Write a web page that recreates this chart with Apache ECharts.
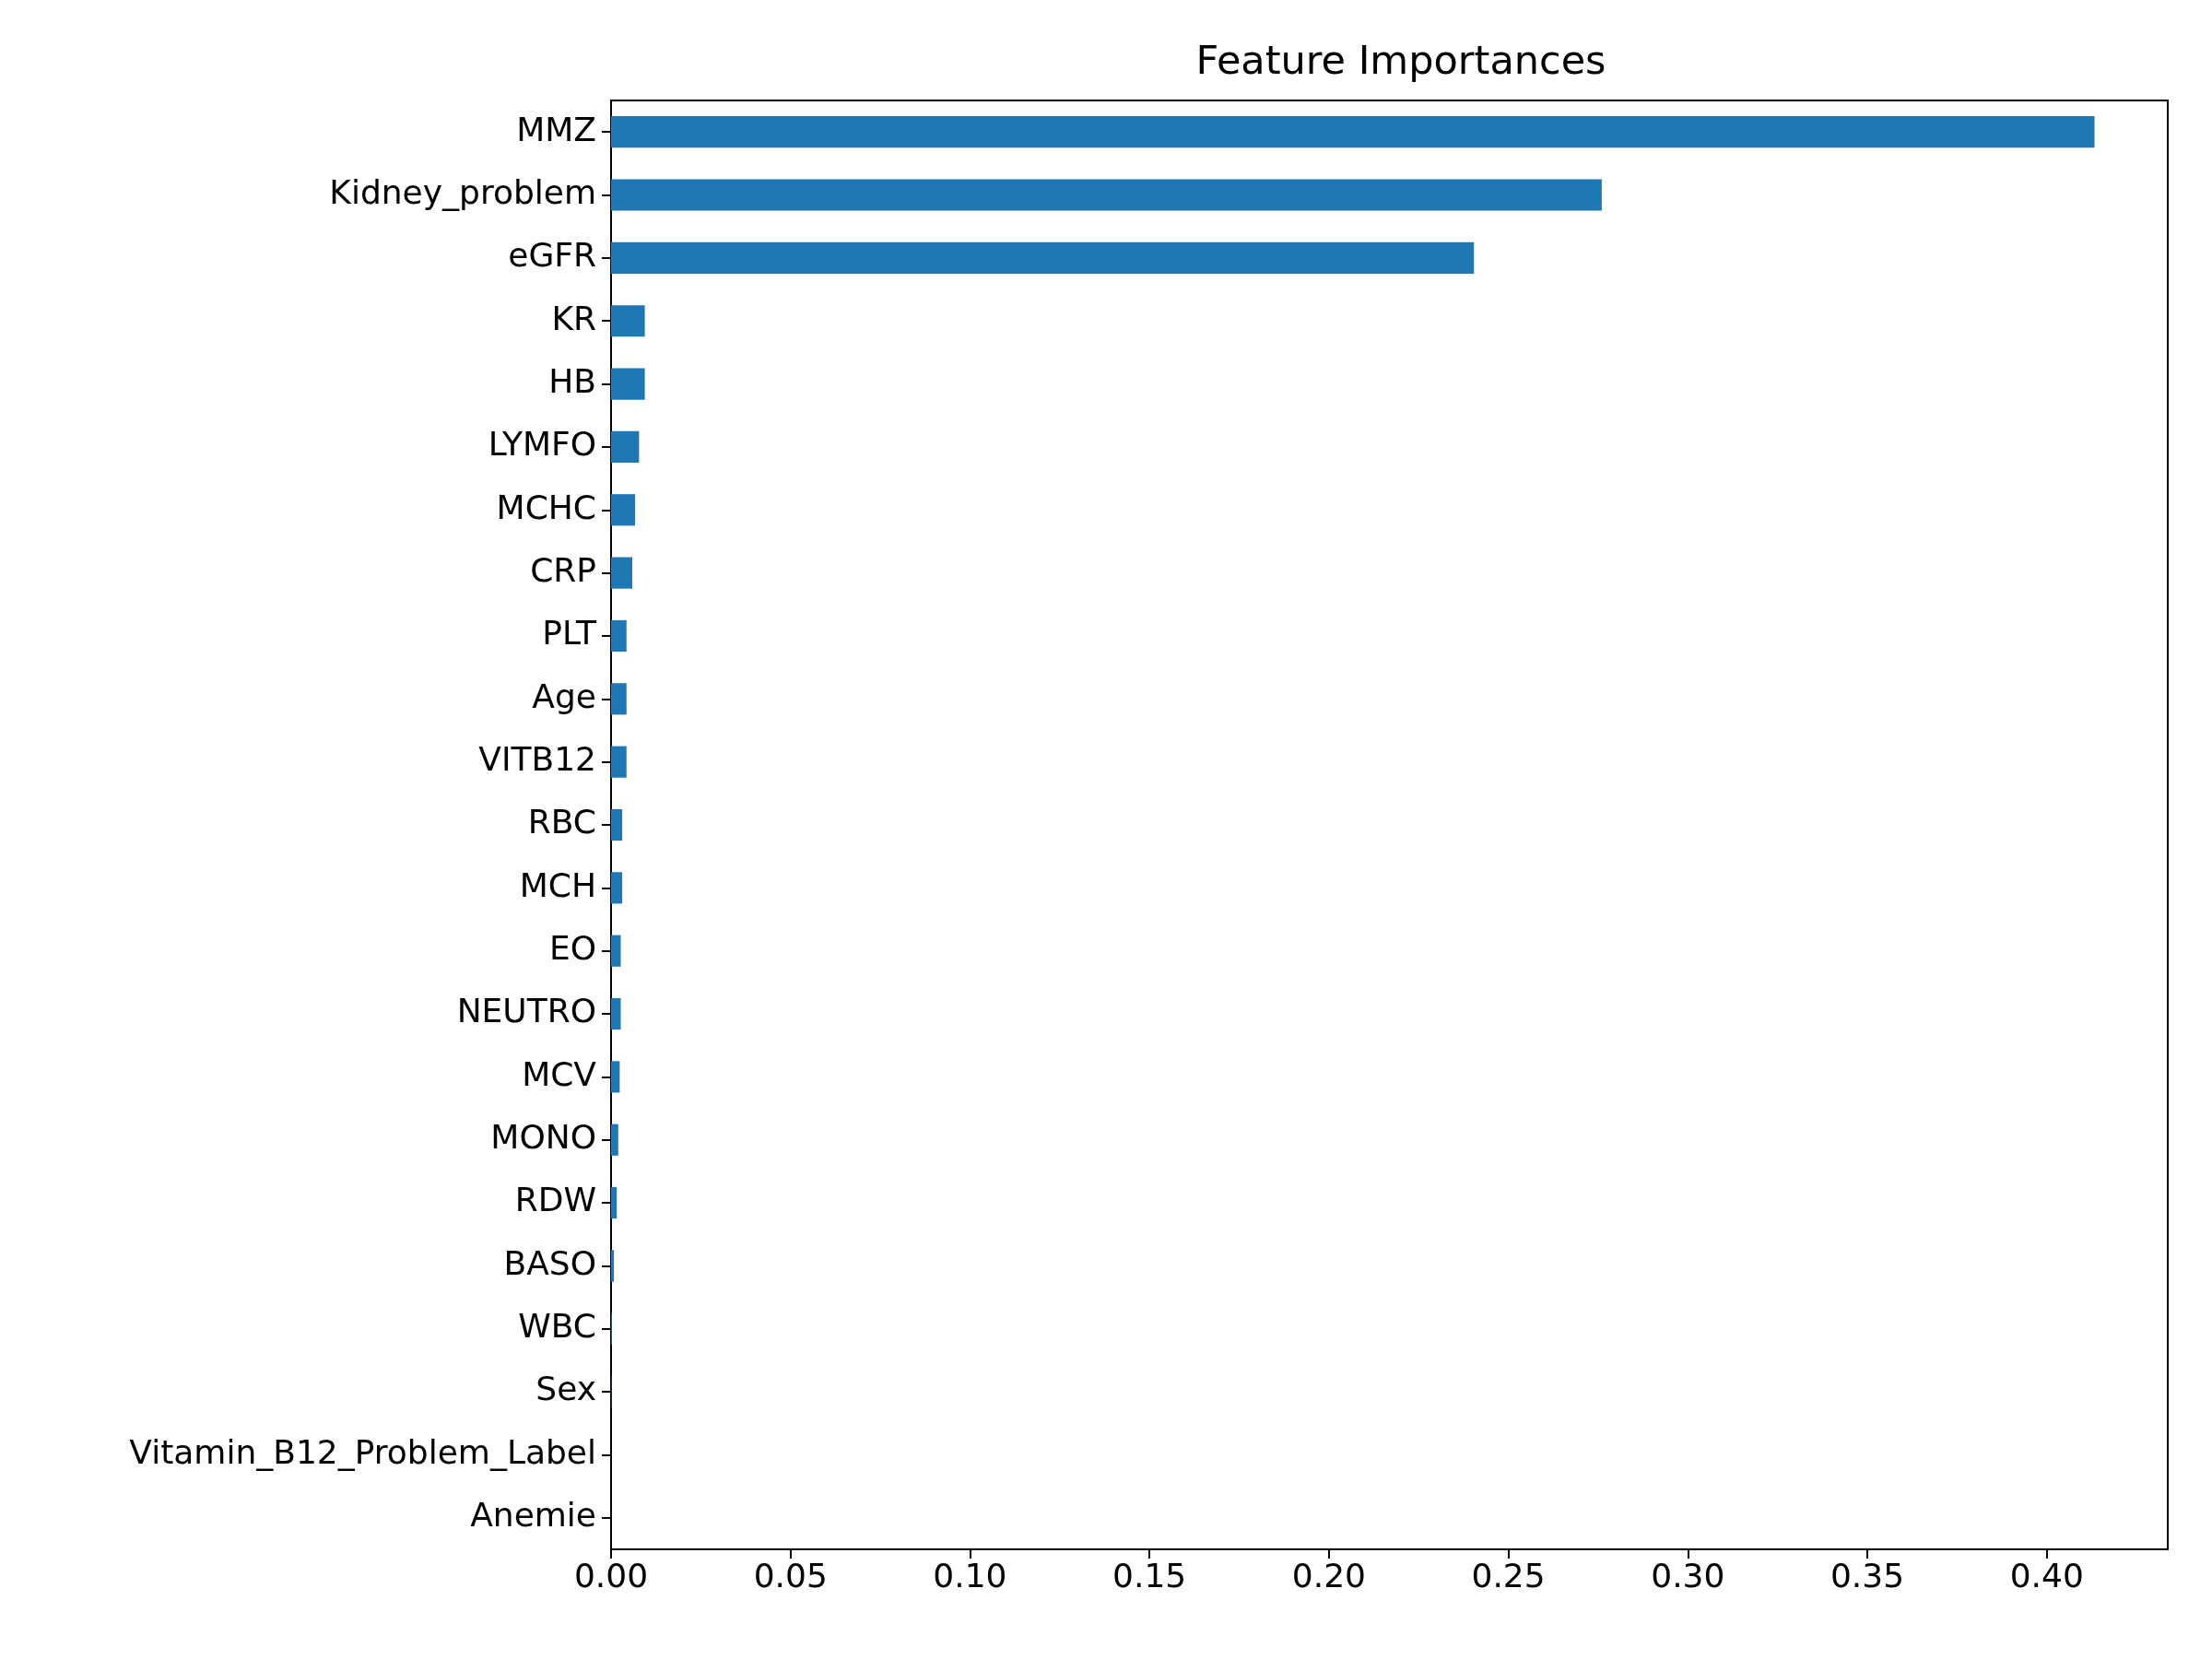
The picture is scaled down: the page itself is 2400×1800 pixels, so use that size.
<!DOCTYPE html>
<html>
<head>
<meta charset="utf-8">
<script src="https://cdn.jsdelivr.net/npm/echarts@6/dist/echarts.min.js"></script>
<style>html,body{margin:0;background:#fff}#chart{width:2400px;height:1800px}</style>
</head>
<body>
<div id="chart"></div>
<script>
const features = ['MMZ', 'Kidney_problem', 'eGFR', 'KR', 'HB', 'LYMFO', 'MCHC', 'CRP', 'PLT', 'Age',
  'VITB12', 'RBC', 'MCH', 'EO', 'NEUTRO', 'MCV', 'MONO', 'RDW', 'BASO', 'WBC', 'Sex',
  'Vitamin_B12_Problem_Label', 'Anemie']
const importances = [0.4133, 0.2760, 0.2404, 0.0094, 0.0094, 0.0078, 0.0067, 0.0059, 0.0043, 0.0043,
  0.0043, 0.0031, 0.0031, 0.0027, 0.0027, 0.0024, 0.0020, 0.0016, 0.0008, 0.0002, 0.0001, 0, 0]

const chart = echarts.init(document.getElementById('chart'))
const font = 'DejaVu Sans'
chart.setOption({
  animation: false,
  title: {
    text: 'Feature Importances', left: 1515, top: 42, textAlign: 'center',
    textStyle: { fontFamily: font, fontSize: 43, fontWeight: 'normal', color: '#000' }
  },
  grid: { left: 663, right: 48, top: 109, bottom: 106 + 13, show: true, borderColor: '#000', borderWidth: 2 },
  xAxis: {
    type: 'value', min: 0, max: 0.4337, interval: 0.05,
    splitLine: { show: false },
    axisLine: { show: true, lineStyle: { color: '#000', width: 2 } },
    axisTick: { show: true, length: 10, lineStyle: { color: '#000', width: 2 } },
    axisLabel: {
      showMaxLabel: false, fontFamily: font, fontSize: 36, color: '#000', margin: 14,
      formatter: v => v.toFixed(2)
    }
  },
  yAxis: {
    type: 'category', data: features, inverse: true,
    axisLine: { show: true, lineStyle: { color: '#000', width: 2 } },
    axisTick: { show: true, alignWithLabel: true, length: 10, lineStyle: { color: '#000', width: 2 } },
    axisLabel: { fontFamily: font, fontSize: 36, color: '#000', margin: 16 }
  },
  series: [{
    type: 'bar', data: importances, barCategoryGap: '50%',
    itemStyle: { color: '#1f77b4' }
  }]
})
</script>
</body>
</html>
